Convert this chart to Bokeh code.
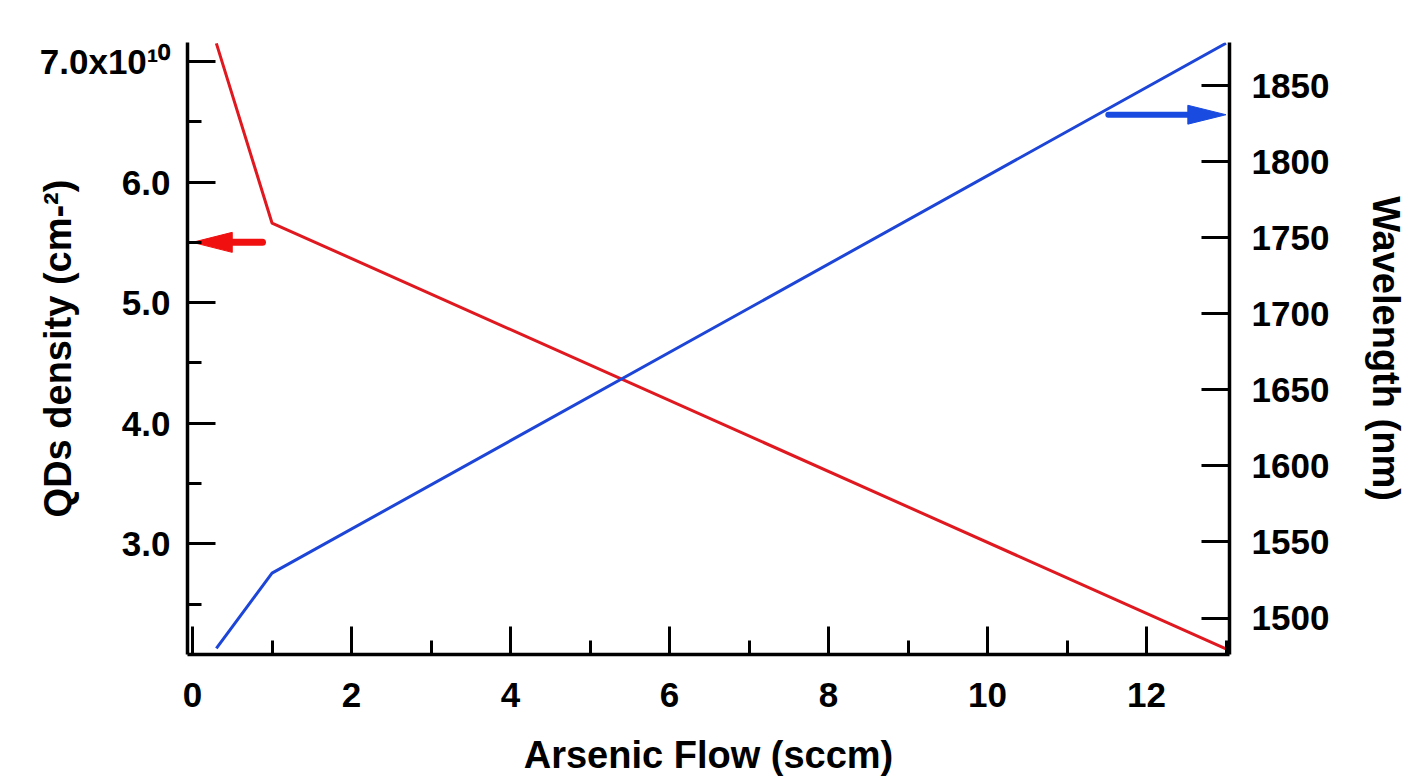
from bokeh.plotting import figure
from bokeh.models import Range1d, LinearAxis, SingleIntervalTicker, CustomJSTickFormatter
from bokeh.embed import file_html
from bokeh.resources import INLINE

# ---- data ----
flow = [0.3, 1.0, 13.0]                 # Arsenic flow (sccm)
density = [7.15, 5.66, 2.13]            # QDs density (x10^10 cm^-2)
wavelength = [1480.0, 1529.5, 1878.0]   # Wavelength (nm)

# arrow annotations (data units)
red_arrow_tail, red_arrow_tip, red_arrow_level = 0.88, 0.0, 5.5
blue_arrow_tail, blue_arrow_tip, blue_arrow_level = 11.52, 13.0, 1831.0

RED = "#e0181f"
BLUE = "#1d45d8"
ARROW_RED = "#f01010"
ARROW_BLUE = "#1a4be0"
FONT = "Liberation Sans"

x0, x1 = -0.063, 13.044
yl0, yl1 = 2.083, 7.157
yr0, yr1 = 1476.0, 1878.5

p = figure(width=1412, height=778, output_backend="svg", toolbar_location=None,
           x_range=Range1d(x0, x1), y_range=Range1d(yl0, yl1),
           x_axis_type=None, y_axis_type=None,
           min_border_left=187, min_border_right=183,
           min_border_top=42, min_border_bottom=123)
p.extra_y_ranges = {"wl": Range1d(yr0, yr1)}
p.outline_line_color = None
p.background_fill_color = "white"
p.border_fill_color = "white"


def style(ax):
    ax.axis_line_width = 3.5
    ax.axis_line_color = "black"
    ax.major_tick_line_width = 3
    ax.minor_tick_line_width = 3
    ax.major_tick_in = 28
    ax.major_tick_out = 0
    ax.minor_tick_in = 14
    ax.minor_tick_out = 0
    ax.major_label_text_font = FONT
    ax.major_label_text_font_style = "bold"
    ax.major_label_text_font_size = "35px"
    ax.major_label_text_color = "black"
    ax.axis_label_text_font = FONT
    ax.axis_label_text_font_style = "bold"
    ax.axis_label_text_font_size = "38px"
    ax.axis_label_text_color = "black"


xaxis = LinearAxis(ticker=SingleIntervalTicker(interval=2, num_minor_ticks=2),
                   axis_label="Arsenic Flow (sccm)")
style(xaxis)
xaxis.major_label_standoff = 28
xaxis.axis_label_standoff = 24
p.add_layout(xaxis, "below")

laxis = LinearAxis(ticker=SingleIntervalTicker(interval=1, num_minor_ticks=2),
                   axis_label="QDs density (cm-²)",
                   formatter=CustomJSTickFormatter(
                       code="return tick > 6.9 ? '7.0x10\\u00b9\\u2070' : tick.toFixed(1);"))
style(laxis)
laxis.major_label_standoff = 17
laxis.axis_label_standoff = -42
p.add_layout(laxis, "left")

raxis = LinearAxis(y_range_name="wl", ticker=SingleIntervalTicker(interval=50, num_minor_ticks=2),
                   axis_label="Wavelength (nm)")
style(raxis)
raxis.minor_tick_line_color = None
raxis.major_label_standoff = 22
raxis.axis_label_standoff = 33
p.add_layout(raxis, "right")

# data lines
p.line(flow, density, line_color=RED, line_width=3)
p.line(flow, wavelength, line_color=BLUE, line_width=3, y_range_name="wl")

# red arrow (points left to the left axis)
hl_r, hw_r = 0.5, 0.083
p.segment(x0=[red_arrow_tail], y0=[red_arrow_level], x1=[red_arrow_tip + hl_r * 0.8], y1=[red_arrow_level],
          line_color=ARROW_RED, line_width=7, line_cap="round")
p.patch([red_arrow_tip, red_arrow_tip + hl_r, red_arrow_tip + hl_r],
        [red_arrow_level, red_arrow_level + hw_r, red_arrow_level - hw_r],
        fill_color=ARROW_RED, line_color=ARROW_RED, line_width=1)

# blue arrow (points right to the right axis)
hl_b, hw_b = 0.48, 6.2
p.segment(x0=[blue_arrow_tail], y0=[blue_arrow_level], x1=[blue_arrow_tip - hl_b * 0.8], y1=[blue_arrow_level],
          line_color=ARROW_BLUE, line_width=6, line_cap="round", y_range_name="wl")
p.patch([blue_arrow_tip, blue_arrow_tip - hl_b, blue_arrow_tip - hl_b],
        [blue_arrow_level, blue_arrow_level + hw_b, blue_arrow_level - hw_b],
        fill_color=ARROW_BLUE, line_color=ARROW_BLUE, line_width=1, y_range_name="wl")

open("out.html", "w").write(file_html(p, INLINE))
